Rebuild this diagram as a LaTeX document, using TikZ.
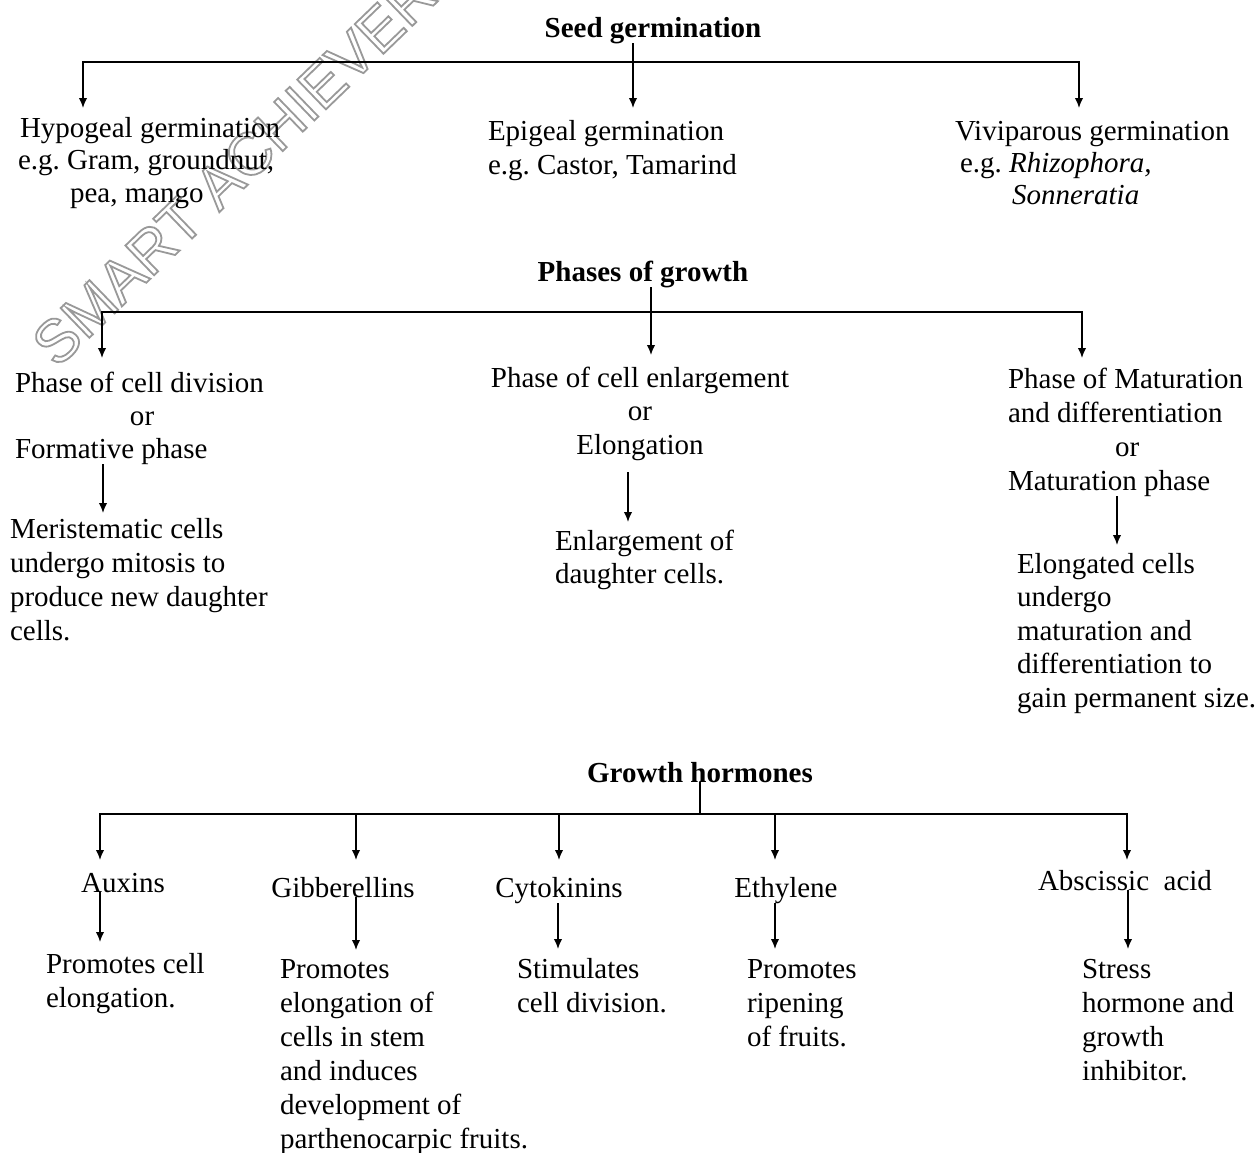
\documentclass[tikz,border=0pt]{standalone}
\usepackage{fontspec}
\setmainfont{Liberation Serif}
\newfontfamily\wmfont{Liberation Sans}
\usetikzlibrary{arrows.meta}
\frenchspacing
\begin{document}
\begin{tikzpicture}[x=1pt,y=-1pt,
  txt/.style={inner sep=0pt, outer sep=0pt, align=left, anchor=base west, font=\fontsize{29}{34}\selectfont\frenchspacing},
  ttl/.style={inner sep=0pt, outer sep=0pt, anchor=base, font=\fontsize{29}{34}\selectfont\bfseries},
  wmark/.style={rotate=44, inner sep=0pt, outer sep=0pt, anchor=base west, font=\wmfont\fontsize{60}{60}\selectfont},
  ln/.style={line width=1.6pt},
  arr/.style={line width=1.6pt, -{Latex[length=10pt,width=8.5pt]}}]
\useasboundingbox (0,0) rectangle (1260,1152);

% watermark (outlined letters via PDF text render mode 1 = stroke only)
\node[wmark] (wm) at (57,369)
  {\special{pdf:literal direct 1 Tr 1.8 w 0.6 G}SMART ACHIEVERS};

% ---------------- Seed germination ----------------
% (multi-line nodes are placed at the baseline of their last line)
\node[ttl] (seed) at (653,37) {Seed germination};
\coordinate (b1M) at (633,62);
\coordinate (hypo-in) at (83,108);
\coordinate (epi-in) at (633,108);
\coordinate (vivi-in) at (1079,108);
\node[txt, font=\fontsize{29}{32.5}\selectfont\frenchspacing] (hypo) at (20,202)
  {Hypogeal germination\\\hspace*{-2pt}e.g. Gram, groundnut,\\\hspace*{50pt}pea, mango};
\node[txt] (epi) at (488,174)
  {Epigeal germination\\e.g. Castor, Tamarind};
\node[txt, font=\fontsize{29}{32}\selectfont\frenchspacing] (vivi) at (955,204)
  {Viviparous germination\\\hspace*{5pt}e.g. \textit{Rhizophora,}\\\hspace*{57pt}\textit{Sonneratia}};
\draw[arr] (b1M) -| (hypo-in);
\draw[arr] (b1M) -| (vivi-in);
\draw[arr] (seed.south -| epi-in) -- (epi-in);

% ---------------- Phases of growth ----------------
\node[ttl] (phases) at (643,281) {Phases of growth};
\coordinate (b2M) at (651,312);
\coordinate (div-in) at (102,358);
\coordinate (enl-in) at (651,355);
\coordinate (mat-in) at (1082,358);
\node[txt, font=\fontsize{29}{33}\selectfont\frenchspacing] (div) at (15,458)
  {Phase of cell division\\\hspace*{115pt}or\\Formative phase};
\node[txt, align=center, anchor=base, font=\fontsize{29}{33.5}\selectfont\frenchspacing] (enl) at (640,454)
  {Phase of cell enlargement\\or\\Elongation};
\node[txt] (mat) at (1008,490)
  {Phase of Maturation\\and differentiation\\\hspace*{107pt}or\\Maturation phase};
\draw[arr] (b2M) -| (div-in);
\draw[arr] (b2M) -| (mat-in);
\draw[arr] (phases.south -| enl-in) -- (enl-in);

\coordinate (meri-in) at (103,513);
\coordinate (enld-in) at (628,522);
\coordinate (matd-in) at (1117,545);
\node[txt] (meri) at (10,640)
  {Meristematic cells\\undergo mitosis to\\produce new daughter\\cells.};
\node[txt, font=\fontsize{29}{33}\selectfont\frenchspacing] (enld) at (555,583)
  {Enlargement of\\daughter cells.};
\node[txt, font=\fontsize{29}{33.5}\selectfont\frenchspacing] (matd) at (1017,707)
  {Elongated cells\\undergo\\maturation and\\differentiation to\\gain permanent size.};
\draw[arr] (div.south -| meri-in) -- (meri-in);
\draw[arr, shorten <=12pt] (enl.south -| enld-in) -- (enld-in);
\draw[arr] (mat.south -| matd-in) -- (matd-in);

% ---------------- Growth hormones ----------------
\node[ttl] (horm) at (700,782) {Growth hormones};
\coordinate (b3M) at (700,814);
\coordinate (aux-in) at (100,860);
\coordinate (gib-in) at (356,860);
\coordinate (cyt-in) at (559,860);
\coordinate (eth-in) at (775,860);
\coordinate (abs-in) at (1127,860);
\draw[ln] (horm.south) -- (b3M);
\draw[arr] (b3M) -| (aux-in);
\draw[arr] (b3M) -| (abs-in);
\draw[arr] (gib-in |- b3M) -- (gib-in);
\draw[arr] (cyt-in |- b3M) -- (cyt-in);
\draw[arr] (eth-in |- b3M) -- (eth-in);

\node[txt, anchor=base] (aux) at (123,892) {Auxins};
\node[txt, anchor=base] (gib) at (343,897) {Gibberellins};
\node[txt, anchor=base] (cyt) at (559,897) {Cytokinins};
\node[txt, anchor=base] (eth) at (786,897) {Ethylene};
\node[txt] (abs) at (1038,890) {Abscissic\ \ acid};

\coordinate (auxd-in) at (100,942);
\coordinate (gibd-in) at (356,950);
\coordinate (cytd-in) at (558,949);
\coordinate (ethd-in) at (775,949);
\coordinate (absd-in) at (1128,949);
\node[txt] (auxd) at (46,1007) {Promotes cell\\elongation.};
\node[txt] (gibd) at (280,1148)
  {Promotes\\elongation of\\cells in stem\\and induces\\development of\\parthenocarpic fruits.};
\node[txt] (cytd) at (517,1012) {Stimulates\\cell division.};
\node[txt] (ethd) at (747,1046) {Promotes\\ripening\\of fruits.};
\node[txt] (absd) at (1082,1080) {Stress\\hormone and\\growth\\inhibitor.};
\draw[arr] (aux.south -| auxd-in) -- (auxd-in);
\draw[arr] (gib.south -| gibd-in) -- (gibd-in);
\draw[arr] (cyt.south -| cytd-in) -- (cytd-in);
\draw[arr] (eth.base -| ethd-in) ++(0,6) -- (ethd-in);
\draw[arr] (abs.south -| absd-in) -- (absd-in);
\end{tikzpicture}
\end{document}
